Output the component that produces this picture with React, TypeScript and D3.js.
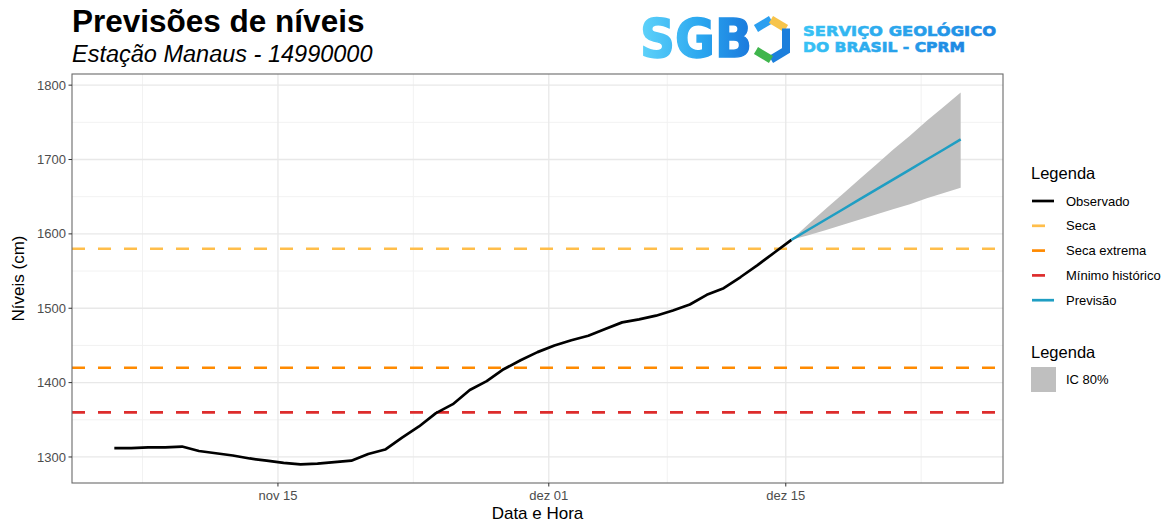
import React from "react";
import * as d3 from "d3";

// Observed daily stage at Manaus (cm), one reading per day at 08:00 UTC
const observedDates = [
  "2023-11-05", "2023-11-06", "2023-11-07", "2023-11-08", "2023-11-09", "2023-11-10",
  "2023-11-11", "2023-11-12", "2023-11-13", "2023-11-14", "2023-11-15", "2023-11-16",
  "2023-11-17", "2023-11-18", "2023-11-19", "2023-11-20", "2023-11-21", "2023-11-22",
  "2023-11-23", "2023-11-24", "2023-11-25", "2023-11-26", "2023-11-27", "2023-11-28",
  "2023-11-29", "2023-11-30", "2023-12-01", "2023-12-02", "2023-12-03", "2023-12-04",
  "2023-12-05", "2023-12-06", "2023-12-07", "2023-12-08", "2023-12-09", "2023-12-10",
  "2023-12-11", "2023-12-12", "2023-12-13", "2023-12-14", "2023-12-15",
];
const observedLevels = [
  1312, 1312, 1313, 1313, 1314, 1308, 1305, 1302, 1298, 1295, 1292, 1290,
  1291, 1293, 1295, 1304, 1310, 1326, 1341, 1359, 1371, 1390, 1402, 1418,
  1430, 1441, 1450, 1457, 1463, 1472, 1481, 1485, 1490, 1497, 1505, 1518,
  1527, 1542, 1558, 1575, 1592,
];

// Forecast with its 80% interval
const forecastDates = [
  "2023-12-15", "2023-12-16", "2023-12-17", "2023-12-18", "2023-12-19", "2023-12-20",
  "2023-12-21", "2023-12-22", "2023-12-23", "2023-12-24", "2023-12-25",
];
const forecastLevels = [1592, 1605.5, 1619, 1632.5, 1646, 1659.5, 1673, 1686.5, 1700, 1713.5, 1727];
const forecastUpper = [1592, 1613, 1633, 1653, 1673, 1693, 1713, 1732, 1752, 1771, 1790];
const forecastLower = [1592, 1598, 1605, 1612, 1619, 1626, 1633, 1640, 1648, 1655, 1662];

// Reference levels
const referenceNames = ["Seca", "Seca extrema", "Mínimo histórico"];
const referenceLevels = [1580, 1420, 1360];
const referenceColors = ["#FFBE4A", "#FF8A00", "#DD2C2C"];

const xTickDates = ["2023-11-15", "2023-12-01", "2023-12-15"];
const xTickLabels = ["nov 15", "dez 01", "dez 15"];
const yTicks = [1300, 1400, 1500, 1600, 1700, 1800];

const legendNames = ["Observado", ...referenceNames, "Previsão"];
const legendColors = ["#000000", ...referenceColors, "#1F9EC3"];
const legendDashed = [false, true, true, true, false];

const W = 1175;
const H = 526;
const panel = { left: 72, right: 1003, top: 74, bottom: 483 };
const FONT = "'Liberation Sans', Arial, Helvetica, sans-serif";

const parseDay = d3.utcParse("%Y-%m-%d %H:%M");
const obsTime = (d: string) => parseDay(d + " 08:00") as Date;
const midnight = (d: string) => parseDay(d + " 00:00") as Date;

function expand([a, b]: [number, number], f = 0.05): [number, number] {
  const r = b - a;
  return [a - r * f, b + r * f];
}

export default function App() {
  const obs = observedDates.map((d, i) => ({ t: obsTime(d), v: observedLevels[i] }));
  const fc = forecastDates.map((d, i) => ({
    t: obsTime(d),
    v: forecastLevels[i],
    hi: forecastUpper[i],
    lo: forecastLower[i],
  }));

  const allTimes = [...obs.map((p) => +p.t), ...fc.map((p) => +p.t)];
  const allValues = [...observedLevels, ...forecastUpper, ...forecastLower];

  const [t0, t1] = expand([d3.min(allTimes)!, d3.max(allTimes)!]);
  const x = d3.scaleUtc().domain([new Date(t0), new Date(t1)]).range([panel.left, panel.right]);
  const y = d3
    .scaleLinear()
    .domain(expand([d3.min(allValues)!, d3.max(allValues)!]))
    .range([panel.bottom, panel.top]);

  // Major and minor x breaks (minor = midpoints, extended by one break step)
  const majors = xTickDates.map(midnight);
  const step = +majors[1] - +majors[0];
  const ext = [+majors[0] - step, ...majors.map((m) => +m), +majors[majors.length - 1] + step];
  const minorX = d3.pairs(ext).map(([a, b]) => new Date((a + b) / 2));
  const yd = y.domain();
  const minorY = d3.range(1250, 1900, 100).filter((v) => v > yd[0] && v < yd[1]);

  const line = d3
    .line<{ t: Date; v: number }>()
    .x((p) => x(p.t))
    .y((p) => y(p.v));
  const band = d3
    .area<{ t: Date; hi: number; lo: number }>()
    .x((p) => x(p.t))
    .y0((p) => y(p.lo))
    .y1((p) => y(p.hi));

  const legendRowY = (i: number) => 201 + i * 24.8;

  return (
    <div style={{ position: "absolute", left: 0, top: 0 }}>
      <svg width={W} height={H} viewBox={`0 0 ${W} ${H}`} style={{ display: "block", background: "#fff" }}>
        <defs>
          <linearGradient id="sgbGrad" x1="0" y1="0" x2="1" y2="0">
            <stop offset="0" stopColor="#5fd3fa" />
            <stop offset="0.55" stopColor="#2aa6ef" />
            <stop offset="1" stopColor="#1a78dc" />
          </linearGradient>
          <linearGradient id="cprmGrad" x1="0" y1="0" x2="1" y2="0">
            <stop offset="0" stopColor="#38c3f5" />
            <stop offset="1" stopColor="#1c86e2" />
          </linearGradient>
          <clipPath id="panelClip">
            <rect x={panel.left} y={panel.top} width={panel.right - panel.left} height={panel.bottom - panel.top} />
          </clipPath>
        </defs>

        {/* Titles */}
        <text x={72} y={32} fontFamily={FONT} fontWeight="bold" fontSize={31.5} fill="#000">
          Previsões de níveis
        </text>
        <text x={72} y={62} fontFamily={FONT} fontStyle="italic" fontSize={23.5} fill="#000">
          Estação Manaus - 14990000
        </text>

        {/* SGB logo */}
        <g>
          <text
            x={640}
            y={57}
            fontFamily="'DejaVu Sans', sans-serif"
            fontWeight="bold"
            fontSize={54}
            textLength={112}
            lengthAdjust="spacingAndGlyphs"
            fill="url(#sgbGrad)"
            stroke="url(#sgbGrad)"
            strokeWidth={1.5}
          >
            SGB
          </text>
          <g fill="none" strokeWidth={8} strokeLinejoin="miter">
            <polyline points="756,28.5 771,19.5" stroke="#2b9ff0" />
            <polyline points="771,19.5 786,28.5" stroke="#f7c44b" />
            <polyline points="786,28.5 786,50.5 771,59.5" stroke="#1c7fdc" />
            <polyline points="771,59.5 756,50.5" stroke="#3fb54c" />
          </g>
          <text
            x={803}
            y={35.5}
            fontFamily="'DejaVu Sans', sans-serif"
            fontWeight="bold"
            fontSize={13.8}
            textLength={193}
            lengthAdjust="spacingAndGlyphs"
            fill="url(#cprmGrad)"
            stroke="url(#cprmGrad)"
            strokeWidth={0.6}
          >
            SERVIÇO GEOLÓGICO
          </text>
          <text
            x={803}
            y={51.5}
            fontFamily="'DejaVu Sans', sans-serif"
            fontWeight="bold"
            fontSize={13.8}
            textLength={162}
            lengthAdjust="spacingAndGlyphs"
            fill="url(#cprmGrad)"
            stroke="url(#cprmGrad)"
            strokeWidth={0.6}
          >
            DO BRASIL - CPRM
          </text>
        </g>

        {/* Grid */}
        <g>
          {minorY.map((v) => (
            <line key={"my" + v} x1={panel.left} x2={panel.right} y1={y(v)} y2={y(v)} stroke="#f0f0f0" strokeWidth={0.9} />
          ))}
          {minorX
            .filter((d) => x(d) > panel.left && x(d) < panel.right)
            .map((d, i) => (
              <line key={"mx" + i} x1={x(d)} x2={x(d)} y1={panel.top} y2={panel.bottom} stroke="#f0f0f0" strokeWidth={0.9} />
            ))}
          {yTicks.map((v) => (
            <line key={"gy" + v} x1={panel.left} x2={panel.right} y1={y(v)} y2={y(v)} stroke="#e8e8e8" strokeWidth={1.3} />
          ))}
          {majors.map((d, i) => (
            <line key={"gx" + i} x1={x(d)} x2={x(d)} y1={panel.top} y2={panel.bottom} stroke="#e8e8e8" strokeWidth={1.3} />
          ))}
        </g>

        {/* Data */}
        <g clipPath="url(#panelClip)">
          {referenceLevels.map((v, i) => (
            <line
              key={"ref" + i}
              x1={panel.left}
              x2={panel.right}
              y1={y(v)}
              y2={y(v)}
              stroke={referenceColors[i]}
              strokeWidth={2.7}
              strokeDasharray="13 13"
            />
          ))}
          <path d={band(fc) ?? ""} fill="#bfbfbf" />
          <path d={line(obs) ?? ""} fill="none" stroke="#000" strokeWidth={2.7} strokeLinejoin="round" />
          <path d={line(fc) ?? ""} fill="none" stroke={legendColors[4]} strokeWidth={2.5} strokeLinejoin="round" />
        </g>

        {/* Panel border */}
        <rect
          x={panel.left}
          y={panel.top}
          width={panel.right - panel.left}
          height={panel.bottom - panel.top}
          fill="none"
          stroke="#6a6a6a"
          strokeWidth={1.1}
        />

        {/* Y axis */}
        <g fontFamily={FONT} fontSize={13} fill="#4d4d4d">
          {yTicks.map((v) => (
            <g key={"yt" + v}>
              <line x1={panel.left - 3.5} x2={panel.left} y1={y(v)} y2={y(v)} stroke="#333" strokeWidth={1} />
              <text x={panel.left - 6} y={y(v)} dy="0.35em" textAnchor="end">
                {v}
              </text>
            </g>
          ))}
        </g>
        <text
          transform={`translate(24,${(panel.top + panel.bottom) / 2}) rotate(-90)`}
          textAnchor="middle"
          fontFamily={FONT}
          fontSize={17}
          fill="#000"
        >
          Níveis (cm)
        </text>

        {/* X axis */}
        <g fontFamily={FONT} fontSize={13} fill="#4d4d4d">
          {majors.map((d, i) => (
            <g key={"xt" + i}>
              <line x1={x(d)} x2={x(d)} y1={panel.bottom} y2={panel.bottom + 3.5} stroke="#333" strokeWidth={1} />
              <text x={x(d)} y={500} textAnchor="middle">
                {xTickLabels[i]}
              </text>
            </g>
          ))}
        </g>
        <text x={(panel.left + panel.right) / 2} y={519} textAnchor="middle" fontFamily={FONT} fontSize={17} fill="#000">
          Data e Hora
        </text>

        {/* Legends */}
        <g fontFamily={FONT}>
          <text x={1031} y={179} fontSize={16.5} fill="#000">
            Legenda
          </text>
          {legendNames.map((name, i) => (
            <g key={"lg" + i}>
              <line
                x1={1032}
                x2={1054}
                y1={legendRowY(i)}
                y2={legendRowY(i)}
                stroke={legendColors[i]}
                strokeWidth={2.7}
                strokeDasharray={legendDashed[i] ? "13 13" : undefined}
              />
              <text x={1066} y={legendRowY(i)} dy="0.35em" fontSize={13} fill="#000">
                {name}
              </text>
            </g>
          ))}
          <text x={1031} y={358} fontSize={16.5} fill="#000">
            Legenda
          </text>
          <rect x={1031} y={367} width={25} height={25} fill="#bfbfbf" />
          <text x={1066} y={379.5} dy="0.35em" fontSize={13} fill="#000">
            IC 80%
          </text>
        </g>
      </svg>
    </div>
  );
}
